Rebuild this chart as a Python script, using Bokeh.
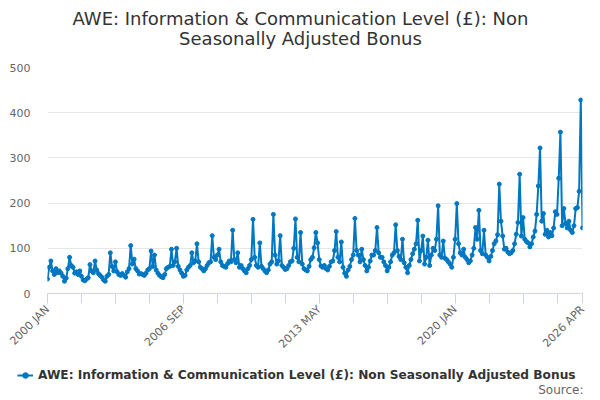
from math import pi
from bokeh.plotting import figure
from bokeh.models import Range1d, FixedTicker, Legend, LegendItem, ColumnDataSource, Label
from bokeh.embed import file_html
from bokeh.resources import INLINE

# Monthly values (GBP), Jan..Dec for each year, 2000 JAN .. 2026 APR
y2000 = [32, 58, 72, 50, 42, 55, 46, 50, 45, 38, 27, 34]
y2001 = [55, 80, 62, 58, 45, 48, 42, 50, 38, 30, 28, 32]
y2002 = [35, 64, 50, 46, 72, 52, 44, 40, 36, 30, 27, 38]
y2003 = [42, 90, 60, 50, 70, 48, 42, 40, 44, 40, 36, 48]
y2004 = [55, 106, 65, 76, 55, 50, 43, 44, 42, 40, 45, 52]
y2005 = [55, 94, 60, 85, 52, 45, 40, 37, 35, 42, 55, 58]
y2006 = [60, 98, 62, 70, 100, 60, 52, 45, 38, 40, 52, 58]
y2007 = [62, 90, 68, 72, 110, 70, 58, 55, 50, 55, 62, 68]
y2008 = [70, 128, 80, 75, 85, 98, 70, 62, 60, 58, 66, 72]
y2009 = [70, 140, 75, 68, 90, 58, 62, 55, 50, 46, 55, 62]
y2010 = [75, 164, 80, 62, 58, 112, 60, 55, 50, 46, 52, 65]
y2011 = [70, 175, 85, 65, 72, 128, 62, 58, 53, 55, 62, 70]
y2012 = [72, 100, 165, 80, 70, 135, 65, 55, 52, 50, 60, 75]
y2013 = [80, 101, 135, 112, 75, 61, 58, 62, 55, 52, 60, 70]
y2014 = [72, 95, 137, 80, 70, 114, 58, 45, 38, 52, 60, 75]
y2015 = [85, 166, 95, 85, 70, 98, 75, 62, 50, 58, 72, 85]
y2016 = [85, 95, 146, 90, 80, 80, 70, 62, 50, 58, 70, 85]
y2017 = [90, 152, 95, 82, 75, 120, 68, 58, 46, 62, 75, 88]
y2018 = [98, 110, 162, 72, 95, 127, 65, 80, 118, 62, 85, 100]
y2019 = [95, 120, 194, 85, 80, 116, 78, 75, 70, 65, 58, 80]
y2020 = [120, 199, 110, 90, 85, 98, 80, 75, 68, 72, 85, 100]
y2021 = [146, 120, 184, 95, 88, 140, 85, 80, 72, 82, 95, 110]
y2022 = [116, 130, 242, 160, 127, 98, 100, 92, 88, 90, 95, 110]
y2023 = [131, 157, 264, 127, 168, 120, 115, 112, 103, 110, 125, 138]
y2024 = [175, 238, 322, 160, 177, 131, 140, 125, 135, 128, 145, 181]
y2025 = [175, 255, 357, 150, 188, 155, 145, 160, 140, 135, 150, 188]
y2026 = [190, 226, 428, 145]

tick_months = [0, 20, 40, 60, 80, 100, 120, 140, 160, 180, 200, 220, 240, 260, 280, 300, 315]
tick_labels = {0: "2000 JAN", 80: "2006 SEP", 160: "2013 MAY", 240: "2020 JAN", 315: "2026 APR"}
y_ticks = [0, 100, 200, 300, 400, 500]

series_name = "AWE: Information & Communication Level (£): Non Seasonally Adjusted Bonus"
title_line1 = "AWE: Information & Communication Level (£): Non"
title_line2 = "Seasonally Adjusted Bonus"
source_text = "Source:"

values = (y2000 + y2001 + y2002 + y2003 + y2004 + y2005 + y2006 + y2007 + y2008 +
          y2009 + y2010 + y2011 + y2012 + y2013 + y2014 + y2015 + y2016 + y2017 +
          y2018 + y2019 + y2020 + y2021 + y2022 + y2023 + y2024 + y2025 + y2026)
src = ColumnDataSource(dict(x=list(range(len(values))), y=values))

FONT = "DejaVu Sans"
BLUE = "#0077c0"
W = 600
TITLE_H, MAIN_H, FOOT_H = 52, 307, 41


def strip(h, yr):
    f = figure(width=W, height=h, output_backend="svg", toolbar_location=None, title=None,
               x_range=Range1d(0, W), y_range=yr,
               x_axis_location=None, y_axis_location=None,
               min_border_left=0, min_border_right=0, min_border_top=0, min_border_bottom=0)
    f.grid.visible = False
    f.outline_line_color = None
    return f


# ---- title strip (screen units measured from the strip's bottom-left corner)
t = strip(TITLE_H, Range1d(0, TITLE_H))
for txt, yy in ((title_line1, TITLE_H - 18), (title_line2, TITLE_H - 38)):
    t.add_layout(Label(x=W / 2, y=yy, x_units="screen", y_units="screen", text=txt,
                       text_align="center", text_baseline="middle", text_font=FONT,
                       text_font_size="18px", text_color="#333333"))

# ---- main chart
p = figure(width=W, height=MAIN_H, output_backend="svg", toolbar_location=None, title=None,
           x_range=Range1d(0, len(values) - 1), y_range=Range1d(0, 500),
           min_border_left=47, min_border_right=18, min_border_top=15, min_border_bottom=66)
p.outline_line_color = None

p.line("x", "y", source=src, line_color=BLUE, line_width=2)
p.scatter("x", "y", source=src, size=4, fill_color=BLUE, line_color=BLUE)

p.xgrid.visible = False
p.ygrid.grid_line_color = "#e6e6e6"
p.ygrid.ticker = FixedTicker(ticks=y_ticks)

ya = p.yaxis[0]
ya.ticker = FixedTicker(ticks=y_ticks)
ya.axis_line_color = None
ya.major_tick_line_color = None
ya.minor_tick_line_color = None
ya.major_label_text_font = FONT
ya.major_label_text_font_size = "11px"
ya.major_label_text_color = "#666666"
ya.major_label_standoff = 11

xa = p.xaxis[0]
xa.ticker = FixedTicker(ticks=tick_months)
xa.major_label_overrides = {tk: tick_labels.get(tk, "") for tk in tick_months}
xa.axis_line_color = "#ccd6eb"
xa.major_tick_line_color = "#ccd6eb"
xa.major_tick_in = 0
xa.major_tick_out = 10
xa.minor_tick_line_color = None
xa.major_label_orientation = pi / 4
xa.major_label_text_font = FONT
xa.major_label_text_font_size = "11px"
xa.major_label_text_color = "#666666"
xa.major_label_standoff = 4

# ---- legend / source strip (series drawn here lies far outside the visible range)
q = strip(FOOT_H, Range1d(-100, -100 + FOOT_H))
k_line = q.line("x", "y", source=src, line_color=BLUE, line_width=2)
k_pts = q.scatter("x", "y", source=src, size=4, fill_color=BLUE, line_color=BLUE)
legend = Legend(items=[LegendItem(label=series_name, renderers=[k_line, k_pts])],
                location=(17, 18), orientation="horizontal",
                border_line_color=None, background_fill_alpha=0,
                label_text_font=FONT, label_text_font_style="bold",
                label_text_font_size="12.2px", label_text_color="#333333",
                glyph_width=16, glyph_height=14, label_height=14,
                padding=0, margin=0, spacing=0)
q.add_layout(legend)
q.add_layout(Label(x=583, y=11, x_units="screen", y_units="screen", text=source_text,
                   text_align="right", text_baseline="middle",
                   text_font=FONT, text_font_size="12px", text_color="#666666"))

# separate roots so that the strips' frames are not aligned with the chart's frame
open("out.html", "w").write(file_html([t, p, q], INLINE))
